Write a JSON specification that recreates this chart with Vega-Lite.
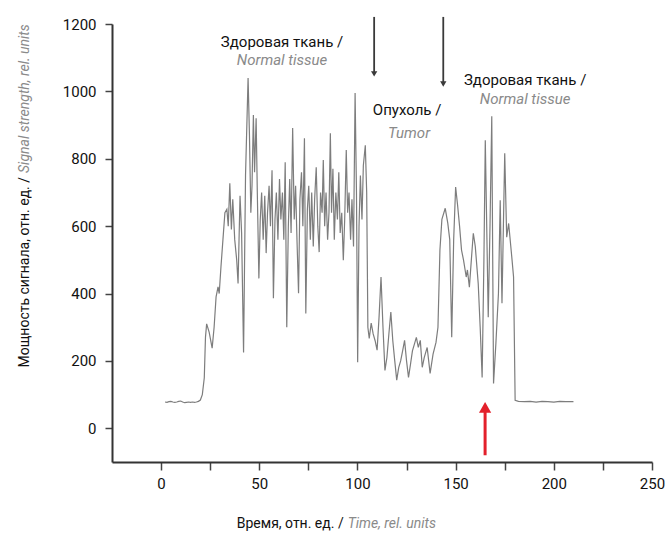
{
  "$schema": "https://vega.github.io/schema/vega-lite/v6.json",
  "width": 540,
  "height": 438,
  "autosize": {"type": "none"},
  "padding": {"left": 112, "top": 24, "right": 15, "bottom": 80},
  "background": "white",
  "config": {
    "view": {"stroke": null},
    "font": "Roboto",
    "text": {"font": "Roboto"},
    "axis": {
      "grid": false,
      "domainColor": "#333333",
      "domainWidth": 2,
      "tickColor": "#444444",
      "tickWidth": 1.5,
      "labelFont": "Roboto",
      "labelFontSize": 15,
      "labelColor": "#111111",
      "title": null
    }
  },
  "datasets": {
    "signal": [
      {"t": 2, "v": 78}, {"t": 3, "v": 77}, {"t": 4, "v": 79}, {"t": 5, "v": 80}, {"t": 6, "v": 78},
      {"t": 7, "v": 77}, {"t": 8, "v": 78}, {"t": 9, "v": 80}, {"t": 10, "v": 81}, {"t": 11, "v": 78},
      {"t": 12, "v": 76}, {"t": 13, "v": 77}, {"t": 14, "v": 78}, {"t": 15, "v": 77}, {"t": 16, "v": 78},
      {"t": 17, "v": 77}, {"t": 18, "v": 78}, {"t": 19, "v": 80}, {"t": 20, "v": 84}, {"t": 21, "v": 100},
      {"t": 22, "v": 150}, {"t": 22.6, "v": 270}, {"t": 23.2, "v": 310}, {"t": 24.5, "v": 285},
      {"t": 26, "v": 238}, {"t": 27, "v": 300}, {"t": 28, "v": 390}, {"t": 29, "v": 420},
      {"t": 29.6, "v": 400}, {"t": 30.5, "v": 480}, {"t": 31.5, "v": 560}, {"t": 32.5, "v": 640},
      {"t": 33.5, "v": 650}, {"t": 34.2, "v": 600}, {"t": 35, "v": 727}, {"t": 35.8, "v": 590},
      {"t": 36.5, "v": 680}, {"t": 37.5, "v": 560}, {"t": 38.5, "v": 500}, {"t": 39.2, "v": 430},
      {"t": 40.2, "v": 690}, {"t": 41, "v": 580}, {"t": 42, "v": 225}, {"t": 43, "v": 750},
      {"t": 44.3, "v": 1040}, {"t": 45, "v": 870}, {"t": 45.7, "v": 640}, {"t": 46.3, "v": 720},
      {"t": 47, "v": 930}, {"t": 47.6, "v": 760}, {"t": 48.4, "v": 920}, {"t": 49, "v": 700},
      {"t": 49.8, "v": 445}, {"t": 50.5, "v": 620}, {"t": 51.2, "v": 700}, {"t": 52, "v": 560},
      {"t": 52.8, "v": 690}, {"t": 53.5, "v": 520}, {"t": 54.2, "v": 640}, {"t": 55, "v": 720},
      {"t": 55.7, "v": 600}, {"t": 56.5, "v": 766}, {"t": 57.2, "v": 386}, {"t": 58, "v": 620},
      {"t": 58.7, "v": 700}, {"t": 59.5, "v": 560}, {"t": 60.3, "v": 740}, {"t": 61, "v": 620},
      {"t": 61.8, "v": 700}, {"t": 62.5, "v": 560}, {"t": 63.2, "v": 790}, {"t": 64, "v": 300},
      {"t": 64.8, "v": 600}, {"t": 65.5, "v": 740}, {"t": 66.2, "v": 580}, {"t": 67, "v": 891},
      {"t": 67.8, "v": 620}, {"t": 68.5, "v": 720}, {"t": 69.2, "v": 560}, {"t": 70, "v": 401},
      {"t": 70.7, "v": 680}, {"t": 71.5, "v": 760}, {"t": 72.2, "v": 600}, {"t": 73, "v": 861},
      {"t": 73.7, "v": 341}, {"t": 74.5, "v": 650}, {"t": 75.2, "v": 720}, {"t": 76, "v": 560},
      {"t": 76.7, "v": 700}, {"t": 77.5, "v": 540}, {"t": 78.2, "v": 680}, {"t": 79, "v": 775},
      {"t": 79.8, "v": 600}, {"t": 80.5, "v": 523}, {"t": 81.2, "v": 700}, {"t": 82, "v": 640},
      {"t": 82.6, "v": 796}, {"t": 83.3, "v": 600}, {"t": 84, "v": 700}, {"t": 84.8, "v": 560},
      {"t": 85.5, "v": 640}, {"t": 86.2, "v": 876}, {"t": 86.8, "v": 640}, {"t": 87.5, "v": 770},
      {"t": 88.2, "v": 560}, {"t": 89, "v": 700}, {"t": 89.8, "v": 620}, {"t": 90.5, "v": 760},
      {"t": 91.2, "v": 580}, {"t": 92, "v": 640}, {"t": 92.8, "v": 499}, {"t": 93.5, "v": 620},
      {"t": 94.3, "v": 826}, {"t": 95, "v": 640}, {"t": 95.7, "v": 700}, {"t": 96.5, "v": 560},
      {"t": 97.2, "v": 680}, {"t": 98, "v": 540}, {"t": 98.8, "v": 995}, {"t": 99.5, "v": 700},
      {"t": 100.1, "v": 196}, {"t": 100.8, "v": 600}, {"t": 101.5, "v": 750}, {"t": 102.3, "v": 620},
      {"t": 103, "v": 780}, {"t": 104, "v": 840}, {"t": 104.7, "v": 700}, {"t": 105.3, "v": 300},
      {"t": 106, "v": 267}, {"t": 107, "v": 312}, {"t": 108, "v": 280}, {"t": 109, "v": 260},
      {"t": 110, "v": 232}, {"t": 111, "v": 330}, {"t": 112, "v": 449}, {"t": 113, "v": 300},
      {"t": 114, "v": 172}, {"t": 115, "v": 210}, {"t": 116, "v": 280}, {"t": 117, "v": 345},
      {"t": 118, "v": 260}, {"t": 119, "v": 200}, {"t": 120, "v": 143}, {"t": 121, "v": 180},
      {"t": 122, "v": 200}, {"t": 123, "v": 230}, {"t": 124, "v": 261}, {"t": 125, "v": 200},
      {"t": 126, "v": 151}, {"t": 127, "v": 190}, {"t": 128, "v": 230}, {"t": 129, "v": 250},
      {"t": 130, "v": 270}, {"t": 131, "v": 240}, {"t": 132, "v": 261}, {"t": 133, "v": 181},
      {"t": 134, "v": 210}, {"t": 135.5, "v": 240}, {"t": 137, "v": 163}, {"t": 138.5, "v": 220},
      {"t": 140, "v": 255}, {"t": 141, "v": 300}, {"t": 142, "v": 529}, {"t": 143, "v": 620},
      {"t": 144.7, "v": 653}, {"t": 146, "v": 609}, {"t": 147, "v": 560}, {"t": 148, "v": 270},
      {"t": 149, "v": 560}, {"t": 150, "v": 716}, {"t": 151, "v": 662}, {"t": 152, "v": 600},
      {"t": 153, "v": 529}, {"t": 154, "v": 500}, {"t": 155.4, "v": 449}, {"t": 156, "v": 470},
      {"t": 157, "v": 419}, {"t": 158, "v": 500}, {"t": 159, "v": 579}, {"t": 160, "v": 540},
      {"t": 161.5, "v": 430}, {"t": 162.5, "v": 300}, {"t": 163.5, "v": 151}, {"t": 164.4, "v": 500},
      {"t": 165.1, "v": 855}, {"t": 166.6, "v": 330}, {"t": 167.5, "v": 600}, {"t": 168.4, "v": 926},
      {"t": 169.3, "v": 133}, {"t": 170.5, "v": 252}, {"t": 171.8, "v": 400}, {"t": 172.7, "v": 677},
      {"t": 173.6, "v": 371}, {"t": 175, "v": 816}, {"t": 176, "v": 567}, {"t": 177, "v": 608},
      {"t": 178.6, "v": 508}, {"t": 179.5, "v": 449}, {"t": 180.3, "v": 83}, {"t": 182, "v": 80},
      {"t": 185, "v": 79}, {"t": 188, "v": 80}, {"t": 191, "v": 78}, {"t": 194, "v": 80},
      {"t": 197, "v": 79}, {"t": 200, "v": 78}, {"t": 203, "v": 80}, {"t": 206, "v": 79},
      {"t": 210, "v": 79}
    ],
    "blackArrows": [
      {"x": 108.5, "y1": 1221, "y2": 1050, "head": 1052},
      {"x": 143.7, "y1": 1221, "y2": 1020, "head": 1022}
    ],
    "redArrow": [
      {"x": 165, "y1": -80, "y2": 60, "head": 62}
    ],
    "notesRu": [
      {"x": 61.6, "y": 1146, "label": "Здоровая ткань /"},
      {"x": 125.3, "y": 944, "label": "Опухоль /"},
      {"x": 185.4, "y": 1034, "label": "Здоровая ткань /"}
    ],
    "notesEn": [
      {"x": 61.6, "y": 1093, "label": "Normal tissue"},
      {"x": 126.3, "y": 876, "label": "Tumor"},
      {"x": 185.4, "y": 977, "label": "Normal tissue"}
    ],
    "xtitleRu": [{"x": 94, "y": -285, "label": "Время, отн. ед. /"}],
    "xtitleEn": [{"x": 94, "y": -285, "label": "Time, rel. units"}],
    "ytitleRu": [{"x": -69.3, "y": 752, "label": "Мощность сигнала, отн. ед. /"}],
    "ytitleEn": [{"x": -69.3, "y": 752, "label": "Signal strength, rel. units"}]
  },
  "layer": [
    {
      "data": {"name": "signal"},
      "mark": {"type": "line", "color": "#7d7d7d", "strokeWidth": 1.2, "interpolate": "linear"},
      "encoding": {
        "x": {
          "field": "t", "type": "quantitative",
          "scale": {"domain": [-25, 250], "nice": false, "zero": false},
          "axis": {
            "values": [0, 25, 50, 75, 100, 125, 150, 175, 200, 225, 250],
            "labelExpr": "datum.value % 50 == 0 ? datum.label : ''",
            "format": "d",
            "tickSize": 8, "labelPadding": 6, "labelFlush": false
          }
        },
        "y": {
          "field": "v", "type": "quantitative",
          "scale": {"domain": [-100, 1200], "nice": false, "zero": false},
          "axis": {
            "values": [0, 100, 200, 300, 400, 500, 600, 700, 800, 900, 1000, 1100, 1200],
            "labelExpr": "datum.value % 200 == 0 ? datum.label : ''",
            "format": "d",
            "tickSize": 7, "labelPadding": 9, "labelFlush": false
          }
        }
      }
    },
    {
      "data": {"name": "blackArrows"},
      "mark": {"type": "rule", "clip": false, "color": "#3a3a3a", "strokeWidth": 1.8},
      "encoding": {
        "x": {"field": "x", "type": "quantitative"},
        "y": {"field": "y1", "type": "quantitative"},
        "y2": {"field": "y2"}
      }
    },
    {
      "data": {"name": "blackArrows"},
      "mark": {"type": "point", "filled": true, "opacity": 1, "clip": false, "shape": "triangle-down", "color": "#3a3a3a", "size": 40},
      "encoding": {
        "x": {"field": "x", "type": "quantitative"},
        "y": {"field": "head", "type": "quantitative"}
      }
    },
    {
      "data": {"name": "redArrow"},
      "mark": {"type": "rule", "clip": false, "color": "#e3202b", "strokeWidth": 3},
      "encoding": {
        "x": {"field": "x", "type": "quantitative"},
        "y": {"field": "y1", "type": "quantitative"},
        "y2": {"field": "y2"}
      }
    },
    {
      "data": {"name": "redArrow"},
      "mark": {"type": "point", "filled": true, "opacity": 1, "clip": false, "shape": "triangle-up", "color": "#e3202b", "size": 150},
      "encoding": {
        "x": {"field": "x", "type": "quantitative"},
        "y": {"field": "head", "type": "quantitative"}
      }
    },
    {
      "data": {"name": "notesRu"},
      "mark": {"type": "text", "fontSize": 15, "baseline": "middle", "align": "center", "color": "#111111"},
      "encoding": {
        "x": {"field": "x", "type": "quantitative"},
        "y": {"field": "y", "type": "quantitative"},
        "text": {"field": "label"}
      }
    },
    {
      "data": {"name": "notesEn"},
      "mark": {"type": "text", "fontSize": 15, "baseline": "middle", "align": "center", "color": "#8a8a8a", "fontStyle": "italic"},
      "encoding": {
        "x": {"field": "x", "type": "quantitative"},
        "y": {"field": "y", "type": "quantitative"},
        "text": {"field": "label"}
      }
    },
    {
      "data": {"name": "xtitleRu"},
      "mark": {"type": "text", "fontSize": 14, "baseline": "middle", "align": "right", "color": "#111111", "dx": -2},
      "encoding": {
        "x": {"field": "x", "type": "quantitative"},
        "y": {"field": "y", "type": "quantitative"},
        "text": {"field": "label"}
      }
    },
    {
      "data": {"name": "xtitleEn"},
      "mark": {"type": "text", "fontSize": 14, "baseline": "middle", "align": "left", "color": "#8a8a8a", "fontStyle": "italic", "dx": 2},
      "encoding": {
        "x": {"field": "x", "type": "quantitative"},
        "y": {"field": "y", "type": "quantitative"},
        "text": {"field": "label"}
      }
    },
    {
      "data": {"name": "ytitleRu"},
      "mark": {"type": "text", "fontSize": 14, "baseline": "middle", "align": "right", "angle": 270, "color": "#111111", "dx": -2},
      "encoding": {
        "x": {"field": "x", "type": "quantitative"},
        "y": {"field": "y", "type": "quantitative"},
        "text": {"field": "label"}
      }
    },
    {
      "data": {"name": "ytitleEn"},
      "mark": {"type": "text", "fontSize": 14, "baseline": "middle", "align": "left", "angle": 270, "color": "#8a8a8a", "fontStyle": "italic", "dx": 2},
      "encoding": {
        "x": {"field": "x", "type": "quantitative"},
        "y": {"field": "y", "type": "quantitative"},
        "text": {"field": "label"}
      }
    }
  ]
}
